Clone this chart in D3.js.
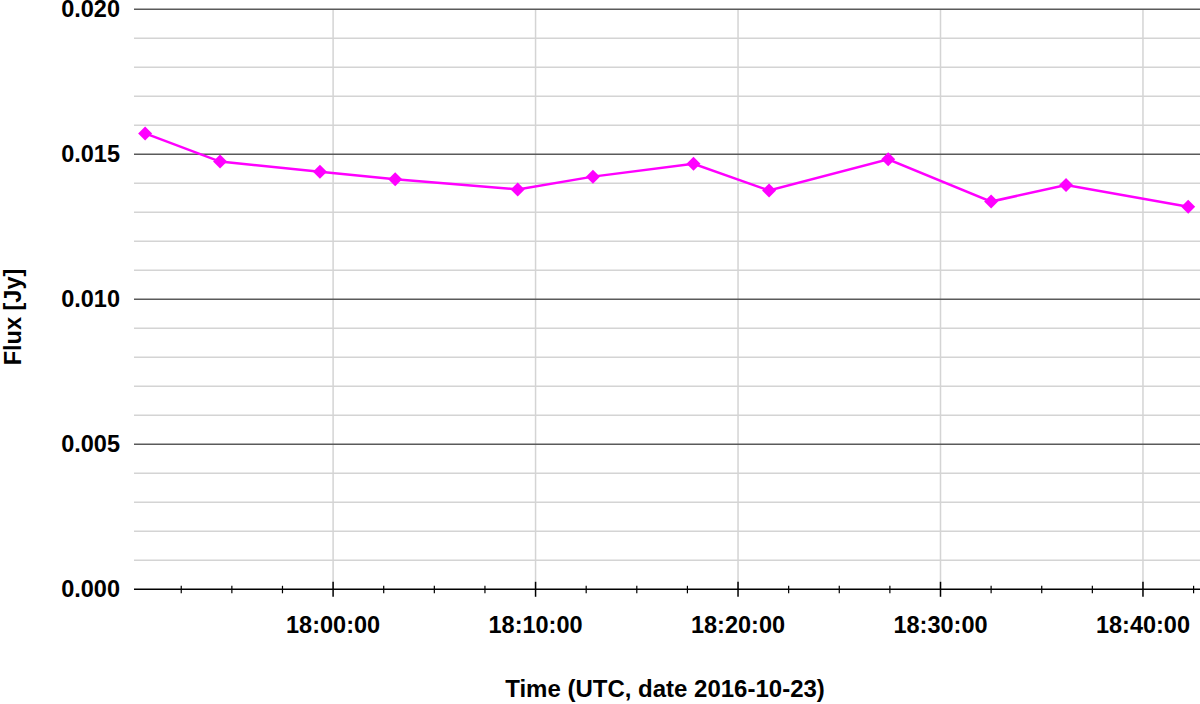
<!DOCTYPE html>
<html>
<head>
<meta charset="utf-8">
<script src="https://cdn.jsdelivr.net/npm/d3@7"></script>
<style>
  html, body { margin: 0; padding: 0; background: #fff; }
  svg { display: block; font-family: "Liberation Sans", Arial, sans-serif; }
</style>
</head>
<body>
<svg id="chart" width="1200" height="704"></svg>
<script>
// ---- data ----
const times = ["17:50:43","17:54:25","17:59:21","18:03:04","18:09:07","18:12:50",
               "18:17:48","18:21:32","18:27:25","18:32:30","18:36:12","18:42:14"];
const flux = [0.01572, 0.01475, 0.01440, 0.01414, 0.01379, 0.01423,
              0.01467, 0.01375, 0.01483, 0.01337, 0.01394, 0.01319];
const xTickLabels = ["18:00:00","18:10:00","18:20:00","18:30:00","18:40:00"];
const yTickLabels = ["0.000","0.005","0.010","0.015","0.020"];
const xTitle = "Time (UTC, date 2016-10-23)";
const yTitle = "Flux [Jy]";
const dateStr = "2016-10-23";

(function () {
const parse = d3.utcParse("%Y-%m-%d %H:%M:%S");
const data = times.map((t, i) => ({ t: parse(dateStr + " " + t), v: flux[i] }));

const svg = d3.select("#chart");
const pL = 134, pR = 1200, pT = 9.3, pB = 589.3;
const fs = 23.5;

const x = d3.scaleUtc()
  .domain([parse(dateStr + " 17:50:10"), parse(dateStr + " 18:42:49")])
  .range([pL, pR]);
const y = d3.scaleLinear().domain([0, 0.020]).range([pB, pT]);

const majorX = xTickLabels.map(s => parse(dateStr + " " + s));
const step = 150 * 1000; // minor tick every 2.5 minutes
const base = +majorX[0];
const [d0, d1] = x.domain().map(Number);
const minorX = d3.range(Math.ceil((d0 - base) / step), Math.floor((d1 - base) / step) + 1)
  .filter(k => k % 4 !== 0)
  .map(k => new Date(base + k * step));
const majorY = yTickLabels.map(Number);
const minorY = d3.range(0, 21).map(i => i / 1000).filter(v => Math.round(v * 1000) % 5 !== 0);

// minor horizontal grid
svg.append("g").selectAll("line").data(minorY).join("line")
  .attr("x1", pL).attr("x2", pR)
  .attr("y1", d => y(d)).attr("y2", d => y(d))
  .attr("stroke", "#d4d4d4").attr("stroke-width", 1.5);

// vertical grid at major x ticks
svg.append("g").selectAll("line").data(majorX).join("line")
  .attr("x1", d => x(d)).attr("x2", d => x(d))
  .attr("y1", pT).attr("y2", pB)
  .attr("stroke", "#d4d4d4").attr("stroke-width", 1.5);

// major horizontal grid (0 is the axis)
svg.append("g").selectAll("line").data(majorY.filter(v => v > 0)).join("line")
  .attr("x1", pL).attr("x2", pR)
  .attr("y1", d => y(d)).attr("y2", d => y(d))
  .attr("stroke", "#5a5a5a").attr("stroke-width", 1.5);

// y tick labels
svg.append("g").selectAll("text").data(yTickLabels).join("text")
  .attr("x", 120).attr("y", d => y(+d) + 8)
  .attr("text-anchor", "end")
  .attr("font-size", fs).attr("font-weight", "bold").attr("fill", "#000")
  .text(d => d);

// x axis line
svg.append("line")
  .attr("x1", pL).attr("x2", pR).attr("y1", pB).attr("y2", pB)
  .attr("stroke", "#000").attr("stroke-width", 1.5);

// x major ticks
svg.append("g").selectAll("line").data(majorX).join("line")
  .attr("x1", d => x(d)).attr("x2", d => x(d))
  .attr("y1", pB - 7.5).attr("y2", pB + 7.5)
  .attr("stroke", "#000").attr("stroke-width", 1.5);
// x minor ticks
svg.append("g").selectAll("line").data(minorX).join("line")
  .attr("x1", d => x(d)).attr("x2", d => x(d))
  .attr("y1", pB - 3.5).attr("y2", pB + 4)
  .attr("stroke", "#000").attr("stroke-width", 1.2);

// x tick labels
svg.append("g").selectAll("text").data(majorX).join("text")
  .attr("x", d => x(d)).attr("y", 632.5)
  .attr("text-anchor", "middle")
  .attr("font-size", fs).attr("font-weight", "bold").attr("fill", "#000")
  .text((d, i) => xTickLabels[i]);

// axis titles
svg.append("text")
  .attr("x", 665).attr("y", 697)
  .attr("text-anchor", "middle")
  .attr("font-size", 24).attr("font-weight", "bold")
  .text(xTitle);
svg.append("text")
  .attr("transform", `translate(20.5,317) rotate(-90)`)
  .attr("text-anchor", "middle")
  .attr("font-size", 23.5).attr("font-weight", "bold")
  .text(yTitle);

// line
const line = d3.line().x(d => x(d.t)).y(d => y(d.v));
svg.append("path").datum(data)
  .attr("d", line)
  .attr("fill", "none").attr("stroke", "#ff00ff").attr("stroke-width", 2.5);

// diamond markers
const s = 7;
svg.append("g").selectAll("path").data(data).join("path")
  .attr("d", d => {
    const cx = x(d.t), cy = y(d.v);
    return `M${cx},${cy - s}L${cx + s},${cy}L${cx},${cy + s}L${cx - s},${cy}Z`;
  })
  .attr("fill", "#ff00ff");
})();
</script>
</body>
</html>
